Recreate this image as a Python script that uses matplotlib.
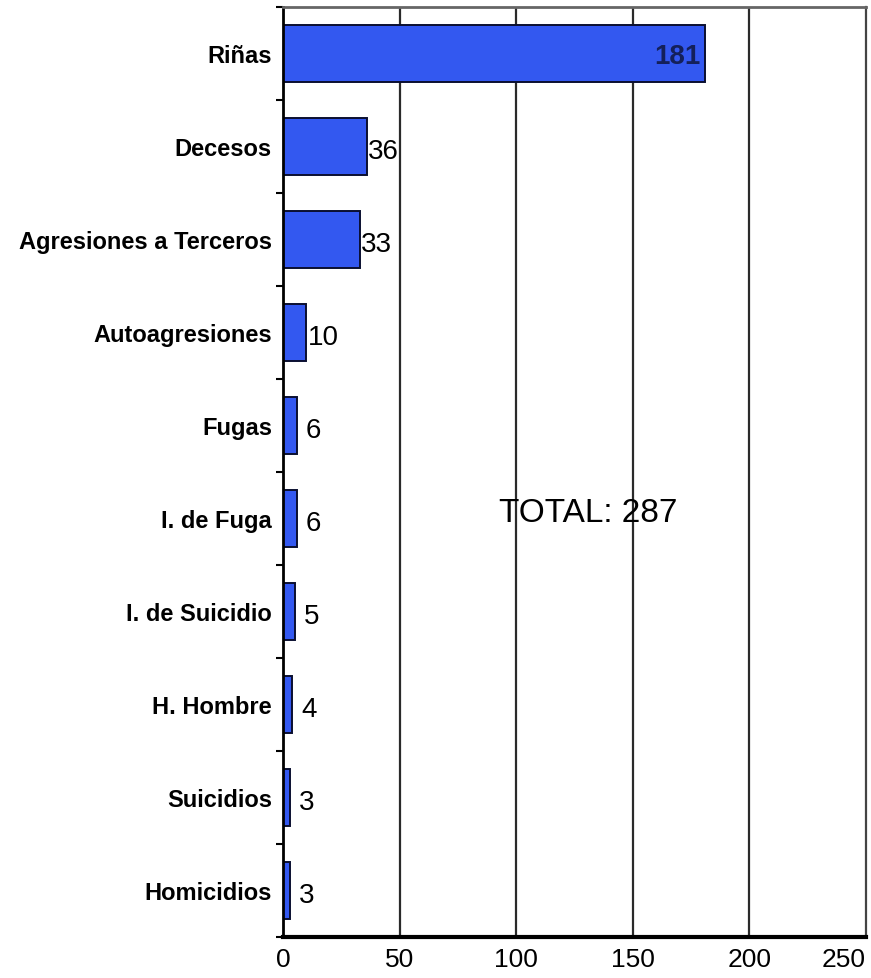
import numpy as np
import matplotlib.pyplot as plt

plt.rcParams["font.family"] = ["Liberation Sans", "DejaVu Sans"]

categories = [
    "Riñas",
    "Decesos",
    "Agresiones a Terceros",
    "Autoagresiones",
    "Fugas",
    "I. de Fuga",
    "I. de Suicidio",
    "H. Hombre",
    "Suicidios",
    "Homicidios",
]
counts = [181, 36, 33, 10, 6, 6, 5, 4, 3, 3]
x_ticks = [0, 50, 100, 150, 200, 250]
total_label = "TOTAL: 287"

fig = plt.figure(figsize=(8.71, 9.79), dpi=100)
ax = fig.add_axes([283 / 871, 41 / 979, 583 / 871, 930 / 979])

y = np.arange(len(categories))

# vertical grid behind the bars
for xv in x_ticks[1:-1]:
    ax.axvline(xv, color="#2a2a2a", lw=1.6, zorder=0)

bars = ax.barh(y, counts, height=0.61, color="#3358f0",
               edgecolor="#0a0f30", linewidth=1.4, zorder=2)

# value labels: largest one sits inside its bar
for i, v in enumerate(counts):
    if v > 100:
        ax.annotate(str(v), (v, i), xytext=(-3, -2), textcoords="offset points",
                    ha="right", va="center", fontsize=20, fontweight="bold",
                    color="#14205a", zorder=3)
    else:
        ax.annotate(str(v), (v, i), xytext=(12, -3), textcoords="offset points",
                    ha="center", va="center", fontsize=20, color="black", zorder=3)

ax.text(0.523, 0.456, total_label, transform=ax.transAxes,
        ha="center", va="center", fontsize=24, color="black", zorder=3)

ax.set_xlim(0, 250)
ax.set_ylim(len(categories) - 0.5, -0.5)
ax.set_xticks(x_ticks)
ax.set_xticklabels([str(t) for t in x_ticks], fontsize=19)
ax.get_xticklabels()[-1].set_horizontalalignment("right")
ax.set_yticks(y)
ax.set_yticklabels(categories, fontsize=17, fontweight="bold")
ax.set_yticks(np.arange(len(categories) + 1) - 0.5, minor=True)

ax.tick_params(axis="y", which="major", length=0, pad=8)
ax.tick_params(axis="y", which="minor", length=5, width=1.5, direction="out")
ax.tick_params(axis="x", which="major", length=0, pad=7)

ax.spines["left"].set_linewidth(2)
ax.spines["left"].set_color("black")
ax.spines["bottom"].set_linewidth(3)
ax.spines["bottom"].set_color("black")
ax.spines["top"].set_linewidth(2)
ax.spines["top"].set_color("#666666")
ax.spines["right"].set_linewidth(1.6)
ax.spines["right"].set_color("#444444")

fig.savefig("out.png", dpi=100)
